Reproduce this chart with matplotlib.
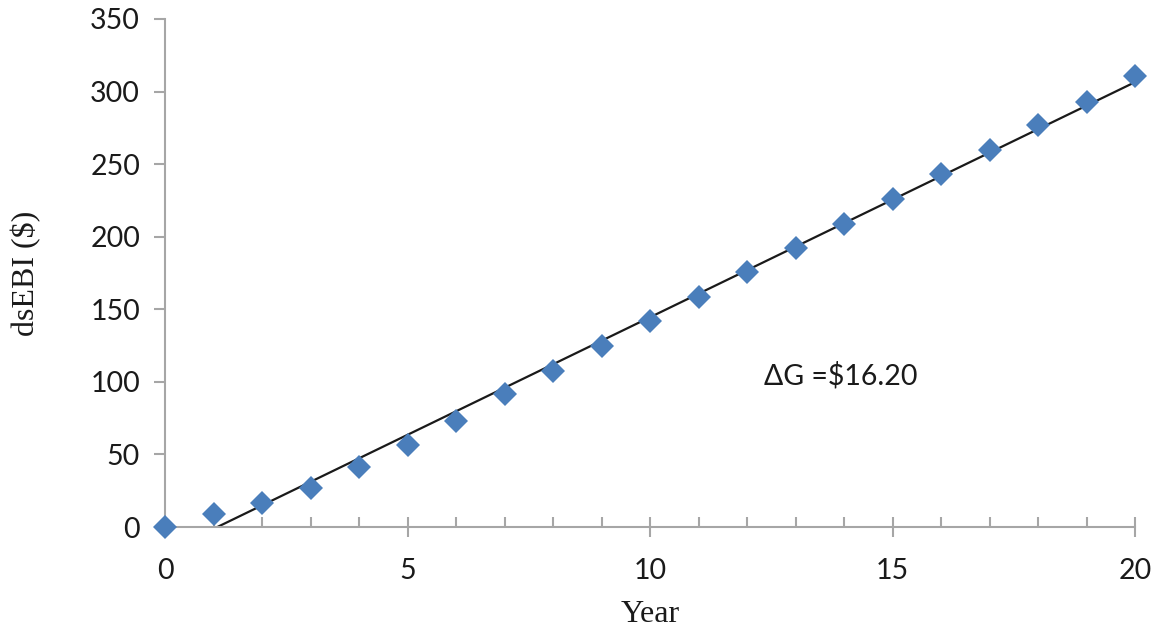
import matplotlib
matplotlib.use("Agg")
import matplotlib.pyplot as plt  # noqa: E402
from matplotlib.ticker import MultipleLocator  # noqa: E402

years = [0, 1, 2, 3, 4, 5, 6, 7, 8, 9, 10, 11, 12, 13, 14, 15, 16, 17, 18, 19, 20]
dsebi = [0, 9, 16.5, 27, 41, 56.5, 73, 91.5, 107.5, 124.5, 142, 158.5, 175.5,
         192, 209, 226, 243, 260, 277, 293, 311]

# linear trend line endpoints (slope = $16.20 / year)
trend_x = [1.08, 20]
trend_y = [0, 306.5]

BLUE = "#4A7EBB"
GRID = "#A6A6A6"
SANS = ["Lato", "DejaVu Sans"]
SERIF = ["Liberation Serif", "DejaVu Serif"]

fig = plt.figure(figsize=(11.62, 6.35), dpi=100)
ax = fig.add_axes([165 / 1162, 1 - 527 / 635, 970 / 1162, 508 / 635])

ax.plot(trend_x, trend_y, color="#1A1A1A", linewidth=1.6, zorder=2)
ax.plot(years, dsebi, linestyle="none", marker="D", markersize=12.5,
        color=BLUE, markeredgewidth=0, zorder=3, clip_on=False)

ax.set_xlim(0, 20)
ax.set_ylim(0, 350)
ax.xaxis.set_major_locator(MultipleLocator(5))
ax.xaxis.set_minor_locator(MultipleLocator(1))
ax.yaxis.set_major_locator(MultipleLocator(50))

for side in ("top", "right"):
    ax.spines[side].set_visible(False)
for side in ("left", "bottom"):
    ax.spines[side].set_color(GRID)
    ax.spines[side].set_linewidth(1.5)

ax.tick_params(axis="x", which="major", direction="inout", length=14,
               width=1.5, color=GRID, pad=15)
ax.tick_params(axis="x", which="minor", direction="in", length=7,
               width=1.5, color=GRID)
ax.tick_params(axis="y", which="major", direction="out", length=8,
               width=1.5, color=GRID, pad=10)

for lbl in ax.get_xticklabels() + ax.get_yticklabels():
    lbl.set_fontfamily(SANS)
    lbl.set_fontsize(20.5)
    lbl.set_color("#1A1A1A")

ax.set_xlabel("Year", fontfamily=SERIF, fontsize=23, color="#1A1A1A", labelpad=12)
ax.set_ylabel("dsEBI ($)", fontfamily=SERIF, fontsize=23, color="#1A1A1A", labelpad=35)

ax.text(12.35, 104, "\u0394G =$16.20", fontfamily=SANS, fontsize=20.5,
        color="#1A1A1A", ha="left", va="center")

fig.savefig("out.png", dpi=100)
